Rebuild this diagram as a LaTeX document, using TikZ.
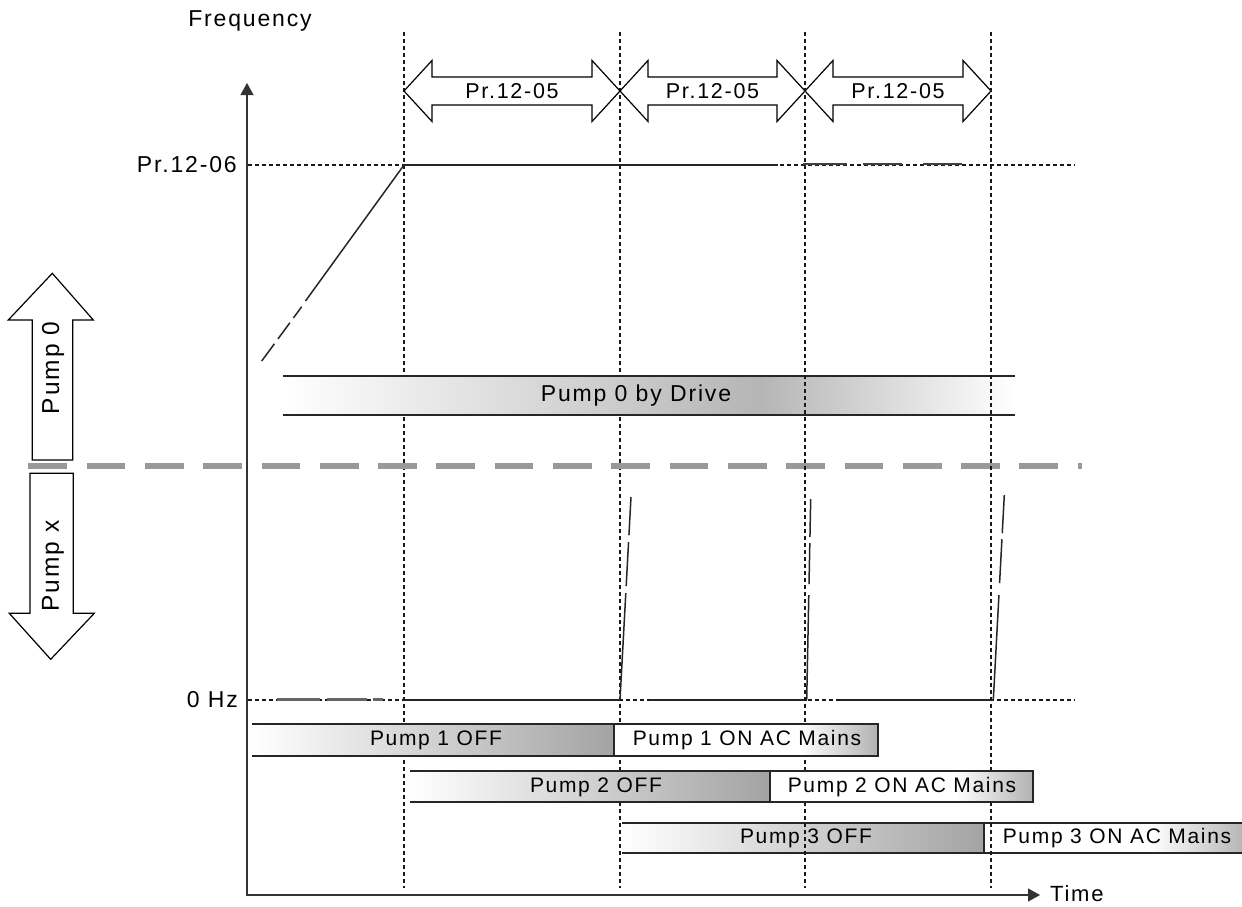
\documentclass[tikz,border=0pt]{standalone}
\usepackage{fontspec}
\setmainfont{Liberation Sans}[LetterSpace=8]
\usetikzlibrary{arrows.meta}
\tikzset{axtip/.tip={Triangle[length=12pt,width=13pt]}}
\begin{document}
\begin{tikzpicture}[x=1pt,y=-1pt,
  lbl/.style={font=\fontsize{23}{26}\selectfont, inner sep=0pt},
  barlbl/.style={font=\fontsize{21}{24}\selectfont, inner sep=0pt},
  arrlbl/.style={font=\fontsize{21.5}{24}\selectfont, inner sep=0pt},
  pumplbl/.style={font=\fontsize{24.5}{27}\selectfont, inner sep=0pt, rotate=90},
  guide/.style={line width=1.5pt, dash pattern=on 4pt off 3pt, black!90},
  curve/.style={line width=1.5pt, black!85},
  faint/.style={line width=2.2pt, black!75},
  boxline/.style={line width=1.1pt, black!85},
  bigarrow/.style={line width=1.2pt, draw=black, fill=white, line join=miter},
  sep/.style={line width=6pt, black!40, dash pattern=on 38.7pt off 19.6pt},
  offshade/.style={left color=white, right color=black!36}
]
\useasboundingbox (0,0) rectangle (1242,907);

% coordinates
\coordinate (O) at (247,895);
\coordinate (Ytop) at (247,83);
\coordinate (Xend) at (1040,895);

% vertical guides (first two, hidden under bars)
\foreach \x in {404,620} \draw[guide] (\x,32) -- (\x,888);
% horizontal guides
\draw[guide] (248,165) -- (1075,165);
\draw[guide] (248,700) -- (1075,700);

% axes
\draw[line width=1.3pt, black!80, axtip-axtip] (Ytop) -- (O) -- (Xend);

% labels
\node[lbl] (freq) at (250,21) {Frequency};
\node[lbl, anchor=east] (f1206) at (237,165) {Pr.12-06};
\node[lbl, anchor=east] (f0) at (238,700) {0 Hz};
\node[lbl, anchor=west, font=\fontsize{22}{24}\selectfont] (time) at (1050,894) {Time};

% top double arrows
\foreach \a/\b/\n in {404/620/1, 620/805/2, 805/991/3}{
  \draw[bigarrow] (\a,91) -- (\a+28,60.5) -- (\a+28,77) -- (\b-28,77) -- (\b-28,60.5)
     -- (\b,91) -- (\b-28,121.5) -- (\b-28,105) -- (\a+28,105) -- (\a+28,121.5) -- cycle;
  \node[arrlbl] (pr\n) at ({(\a+\b)/2},91) {Pr.12-05};
}

% frequency curve: ramp and top level
\draw[curve] (404,165) -- (305.5,301);
\draw[curve, dash pattern=on 14pt off 6pt on 20pt off 6pt on 22pt off 10pt] (301.7,306.7) -- (261.7,361);
\draw[curve] (404,165) -- (778,165);
\foreach \a/\b in {803/847, 863/902, 923/962} \draw[faint] (\a,163.8) -- (\b,163.8);

% 0 Hz level
\foreach \a/\b in {277/320, 327/367, 373/383} \draw[faint, black!60] (\a,699.5) -- (\b,699.5);
\draw[curve] (404,700) -- (620,700);
\draw[curve] (650,700) -- (806.7,700);
\draw[curve] (840,700) -- (993.3,700);

% rising lines
\draw[curve, dash pattern=on 107pt off 7pt on 44pt off 7pt on 60pt] (620,700) -- (631,497);
\draw[curve, dash pattern=on 105pt off 11pt on 41pt off 6pt on 60pt] (806.7,700) -- (810.7,499);
\draw[curve, dash pattern=on 105pt off 12pt on 44pt off 6pt on 60pt] (993.3,700) -- (1004.3,495);

% Pump 0 by Drive bar
\shade[left color=white, right color=black!29] (283,376) rectangle (760,415);
\shade[left color=black!29, right color=white] (760,376) rectangle (1015,415);
\draw[boxline] (283,376) -- (1015,376) (283,415) -- (1015,415);
\node[lbl] (drive) at (636,396) {Pump 0 by Drive};

% separator
\draw[sep] (28.3,466) -- (1082,466);

% pump arrows
\draw[bigarrow] (52.3,273.3) -- (93.3,320) -- (72.7,320) -- (72.7,460) -- (32.3,460) -- (32.3,320) -- (8.3,320) -- cycle;
\node[pumplbl] (p0) at (53,368) {Pump 0};
\draw[bigarrow] (30,473.3) -- (73.3,473.3) -- (73.3,613.3) -- (94.3,613.3) -- (50.7,659.3) -- (9.3,613.3) -- (30,613.3) -- cycle;
\node[pumplbl] (px) at (53,566) {Pump x};

% row 3 bars
\shade[offshade] (622,823) rectangle (984,853);
\draw[boxline] (622,823) -- (984,823) -- (984,853) -- (622,853);
\fill[white] (984,823) rectangle (1242,853);
\shade[left color=white, right color=black!28] (1150,823) rectangle (1242,853);
\draw[boxline] (1242,823) -- (984,823) -- (984,853) -- (1242,853);

% remaining vertical guides (drawn over drive bar and row 3)
\foreach \x in {805,991} \draw[guide] (\x,32) -- (\x,888);
\draw[guide] (620,823) -- (620,853);

% row 1 bars
\shade[offshade] (252,724) rectangle (614,756);
\draw[boxline] (252,724) -- (614,724) -- (614,756) -- (252,756);
\fill[white] (614,724) rectangle (878,756);
\shade[left color=white, right color=black!30] (800,724) rectangle (878,756);
\draw[boxline] (614,724) rectangle (878,756);

% row 2 bars
\shade[offshade] (410,771) rectangle (770,802);
\draw[boxline] (410,771) -- (770,771) -- (770,802) -- (410,802);
\fill[white] (770,771) rectangle (1033,802);
\shade[left color=white, right color=black!30] (955,771) rectangle (1033,802);
\draw[boxline] (770,771) rectangle (1033,802);

% bar texts
\node[barlbl] (off1) at (436,740) {Pump 1 OFF};
\node[barlbl] (on1) at (747,740) {Pump 1 ON AC Mains};
\node[barlbl] (off2) at (596,787) {Pump 2 OFF};
\node[barlbl] (on2) at (902,787) {Pump 2 ON AC Mains};
\node[barlbl] (off3) at (806,838) {Pump 3 OFF};
\node[barlbl] (on3) at (1117,838) {Pump 3 ON AC Mains};
\end{tikzpicture}
\end{document}
